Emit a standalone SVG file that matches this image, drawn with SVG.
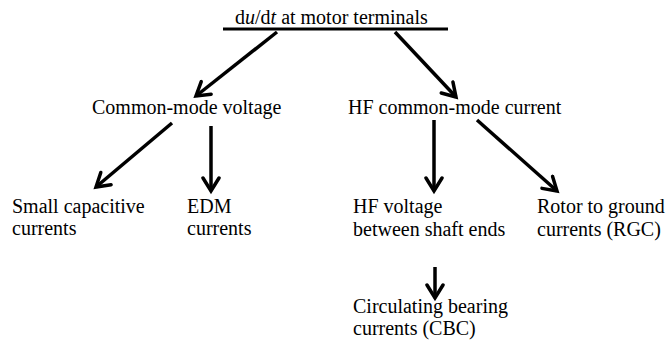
<svg xmlns="http://www.w3.org/2000/svg" width="669" height="345" viewBox="0 0 669 345">
<style>
text{font-family:"Liberation Serif","Times New Roman",serif;font-size:20px;fill:#000}
.c line{stroke:#000;stroke-width:3.5;marker-end:url(#ah)}
</style>
<defs>
<marker id="ah" markerUnits="userSpaceOnUse" viewBox="-16 -10 20 20" refX="0" refY="0" markerWidth="20" markerHeight="20" orient="auto">
<path d="M-13,-8 L0,0 L-13,8" fill="none" stroke="#000" stroke-width="3.5" stroke-linejoin="miter" stroke-linecap="round"/>
</marker>
</defs>
<rect width="669" height="345" fill="#fff"/>
<g id="root">
<text x="235" y="24">d<tspan font-style="italic">u</tspan>/d<tspan font-style="italic">t</tspan> at motor terminals</text>
<line x1="223" y1="29" x2="448" y2="29" stroke="#000" stroke-width="3"/>
</g>
<g id="cmv"><text x="92" y="114">Common-mode voltage</text></g>
<g id="hfcmc"><text x="348" y="114">HF common-mode current</text></g>
<g id="scc"><text x="12" y="213">Small capacitive</text><text x="12" y="235">currents</text></g>
<g id="edm"><text x="187" y="213">EDM</text><text x="187" y="235">currents</text></g>
<g id="hfv"><text x="353" y="213">HF voltage</text><text x="353" y="236">between shaft ends</text></g>
<g id="rgc"><text x="537" y="213">Rotor to ground</text><text x="537" y="236">currents (RGC)</text></g>
<g id="cbc"><text x="353" y="313">Circulating bearing</text><text x="353" y="335">currents (CBC)</text></g>
<g class="c" id="connectors">
<line x1="277" y1="32" x2="196" y2="96"/>
<line x1="395" y1="32" x2="456" y2="97"/>
<line x1="172" y1="123" x2="96" y2="187"/>
<line x1="211" y1="126" x2="211" y2="191"/>
<line x1="434" y1="120" x2="434" y2="191"/>
<line x1="477" y1="120" x2="557" y2="191"/>
<line x1="435" y1="267" x2="435" y2="298"/>
</g>
</svg>
